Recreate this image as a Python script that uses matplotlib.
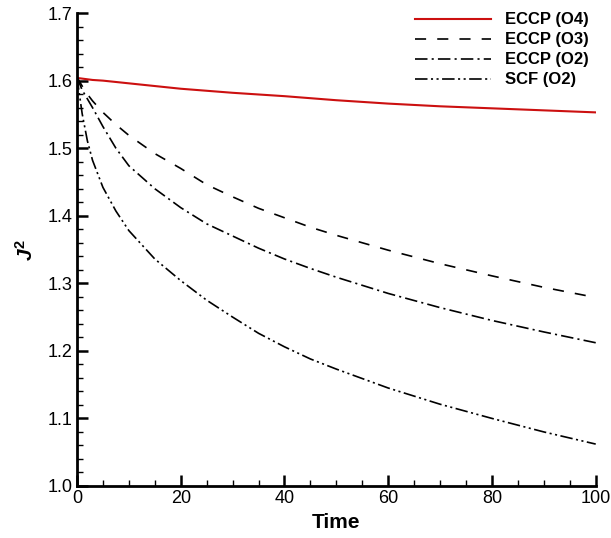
import numpy as np
import matplotlib
matplotlib.use('Agg')
import matplotlib.pyplot as plt
from matplotlib.ticker import MultipleLocator

plt.rcParams['font.family'] = ['Liberation Sans', 'DejaVu Sans']
plt.rcParams['mathtext.fontset'] = 'custom'
plt.rcParams['mathtext.it'] = 'Liberation Sans:italic:bold'
plt.rcParams['mathtext.bf'] = 'Liberation Sans:bold'
plt.rcParams['mathtext.rm'] = 'Liberation Sans'
plt.rcParams['lines.scale_dashes'] = False

# values
time = [0, 1, 2, 3, 5, 7.5, 10, 15, 20, 25, 30, 35, 40, 45, 50, 60, 70, 80, 90, 100]
eccp_o4 = [1.604, 1.603, 1.602, 1.601, 1.600, 1.598, 1.596, 1.592, 1.588, 1.585,
           1.582, 1.5795, 1.577, 1.574, 1.571, 1.566, 1.562, 1.559, 1.556, 1.553]
eccp_o3 = [1.605, 1.592, 1.580, 1.570, 1.553, 1.535, 1.519, 1.492, 1.470, 1.446,
           1.428, 1.411, 1.397, 1.383, 1.371, 1.349, 1.329, 1.311, 1.294, 1.279]
eccp_o2 = [1.605, 1.586, 1.573, 1.560, 1.532, 1.500, 1.474, 1.440, 1.412, 1.388,
           1.370, 1.352, 1.336, 1.322, 1.309, 1.285, 1.264, 1.245, 1.228, 1.212]
scf_o2 = [1.605, 1.551, 1.511, 1.482, 1.442, 1.407, 1.378, 1.336, 1.304, 1.275,
          1.250, 1.226, 1.206, 1.188, 1.173, 1.145, 1.121, 1.100, 1.080, 1.062]

fig = plt.figure(figsize=(6.11, 5.38), dpi=100)
ax = fig.add_axes([0.126, 0.0967, 0.849, 0.879])

ax.plot(time, eccp_o4, color='#cc1010', lw=1.5, label='ECCP (O4)')
ax.plot(time, eccp_o3, color='black', lw=1.2, linestyle=(0, (8, 8)), label='ECCP (O3)')
ax.plot(time, eccp_o2, color='black', lw=1.2, linestyle=(0, (9, 3, 1.5, 3)), label='ECCP (O2)')
ax.plot(time, scf_o2, color='black', lw=1.2,
        linestyle=(0, (9, 2.5, 1.5, 2.5, 1.5, 2.5)), label='SCF (O2)')

ax.set_xlim(0, 100)
ax.set_ylim(1.0, 1.7)
ax.xaxis.set_major_locator(MultipleLocator(20))
ax.xaxis.set_minor_locator(MultipleLocator(5))
ax.yaxis.set_major_locator(MultipleLocator(0.1))
ax.yaxis.set_minor_locator(MultipleLocator(0.02))
ax.yaxis.set_major_formatter(plt.FormatStrFormatter('%.1f'))

for s in ['top', 'right']:
    ax.spines[s].set_visible(False)
for s in ['left', 'bottom']:
    ax.spines[s].set_linewidth(2)

ax.tick_params(which='major', direction='in', length=8, width=1.8, labelsize=13, pad=3)
ax.tick_params(which='minor', direction='in', length=4, width=1)

ax.set_xlabel('Time', fontsize=15, fontweight='bold', labelpad=4)
ax.set_ylabel(r'$\mathit{J}^{\mathbf{2}}$', fontsize=15, labelpad=8)

ax.legend(loc='upper left', bbox_to_anchor=(0.679, 0.977), bbox_transform=fig.transFigure,
          frameon=False, borderpad=0, borderaxespad=0,
          prop={'weight': 'bold', 'size': 12}, handlelength=4.55,
          handletextpad=0.85, labelspacing=0.3)

fig.savefig('out.png', dpi=100)
